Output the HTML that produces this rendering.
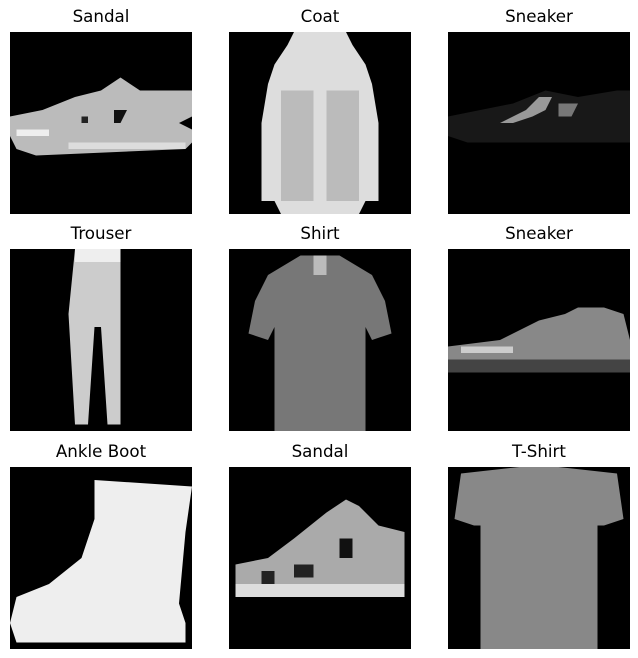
<!DOCTYPE html>
<html><head><meta charset="utf-8"><style>
body{margin:0;background:#fff;width:638px;height:658px;position:relative;overflow:hidden;font-family:"DejaVu Sans","Liberation Sans",sans-serif}
.t{position:absolute;width:182px;text-align:center;font-size:16.7px;color:#000}
svg{position:absolute;width:182px;height:182px}
</style></head><body>
<div class="t" style="left:10px;top:6px">Sandal</div>
<div class="t" style="left:229px;top:6px">Coat</div>
<div class="t" style="left:448px;top:6px">Sneaker</div>
<div class="t" style="left:10px;top:223px">Trouser</div>
<div class="t" style="left:229px;top:223px">Shirt</div>
<div class="t" style="left:448px;top:223px">Sneaker</div>
<div class="t" style="left:10px;top:441px">Ankle Boot</div>
<div class="t" style="left:229px;top:441px">Sandal</div>
<div class="t" style="left:448px;top:441px">T-Shirt</div>

<svg style="left:10px;top:32px" viewBox="0 0 28 28" preserveAspectRatio="none">
<rect width="28" height="28" fill="#000"/>
<polygon points="0,13 5,12 10,10 14,9 17,7 20,9 25,9 28,9 28,13 26,14 28,15 28,17 27,18 4,19 1,18 0,16" fill="#bbb"/>
<polygon points="11,13 12,13 12,14 11,14" fill="#222"/><polygon points="16,12 18,12 17,14 16,14" fill="#111"/>
<polygon points="1,15 6,15 6,16 1,16" fill="#eee"/><polygon points="9,17 27,17 27,18 9,18" fill="#ddd"/>
</svg>
<svg style="left:229px;top:32px" viewBox="0 0 28 28" preserveAspectRatio="none">
<rect width="28" height="28" fill="#000"/>
<polygon points="10,0 18,0 19,2 21,5 22,8 23,14 23,26 21,26 20,28 8,28 7,26 5,26 5,14 6,8 7,5 9,2" fill="#ddd"/>
<rect x="8" y="9" width="5" height="17" fill="#bbb"/><rect x="15" y="9" width="5" height="17" fill="#bbb"/>
</svg>
<svg style="left:448px;top:32px" viewBox="0 0 28 28" preserveAspectRatio="none">
<rect width="28" height="28" fill="#000"/>
<polygon points="0,13 10,11 15,9 20,10 26,9 28,9 28,17 3,17 0,16" fill="#181818"/>
<polygon points="8,14 12,12 14,10 16,10 15,12 13,13 10,14" fill="#999"/>
<polygon points="17,11 20,11 19,13 17,13" fill="#777"/>
</svg>
<svg style="left:10px;top:249px" viewBox="0 0 28 28" preserveAspectRatio="none">
<rect width="28" height="28" fill="#000"/>
<polygon points="10,0 17,0 17,8 17,27 15,27 14,12 13,12 12,27 10,27 9,10" fill="#ccc"/>
<rect x="10" y="0" width="7" height="2" fill="#eee"/>
</svg>
<svg style="left:229px;top:249px" viewBox="0 0 28 28" preserveAspectRatio="none">
<rect width="28" height="28" fill="#000"/>
<polygon points="11,1 17,1 22,4 24,8 25,13 22,14 21,12 21,28 7,28 7,12 6,14 3,13 4,8 6,4" fill="#777"/>
<rect x="13" y="1" width="2" height="3" fill="#bbb"/>
</svg>
<svg style="left:448px;top:249px" viewBox="0 0 28 28" preserveAspectRatio="none">
<rect width="28" height="28" fill="#000"/>
<polygon points="0,15 8,14 14,11 18,10 20,9 24,9 27,10 28,14 28,18 0,19" fill="#888"/>
<rect x="0" y="17" width="28" height="2" fill="#444"/>
<polygon points="2,15 10,15 10,16 2,16" fill="#ccc"/>
</svg>
<svg style="left:10px;top:467px" viewBox="0 0 28 28" preserveAspectRatio="none">
<rect width="28" height="28" fill="#000"/>
<polygon points="13,2 28,3 27,10 26,21 27,24 27,27 1,27 0,24 1,20 6,18 11,14 13,8" fill="#eee"/>
</svg>
<svg style="left:229px;top:467px" viewBox="0 0 28 28" preserveAspectRatio="none">
<rect width="28" height="28" fill="#000"/>
<polygon points="1,15 6,14 10,11 15,7 18,5 20,6 23,9 27,10 27,19 24,20 1,20" fill="#aaa"/>
<rect x="5" y="16" width="2" height="2" fill="#222"/><rect x="10" y="15" width="3" height="2" fill="#222"/><rect x="17" y="11" width="2" height="3" fill="#111"/>
<rect x="1" y="18" width="26" height="2" fill="#ddd"/>
</svg>
<svg style="left:448px;top:467px" viewBox="0 0 28 28" preserveAspectRatio="none">
<rect width="28" height="28" fill="#000"/>
<polygon points="2,1 11,0 17,0 26,1 27,8 24,9 23,9 23,28 5,28 5,9 4,9 1,8" fill="#888"/>
</svg>
</body></html>
